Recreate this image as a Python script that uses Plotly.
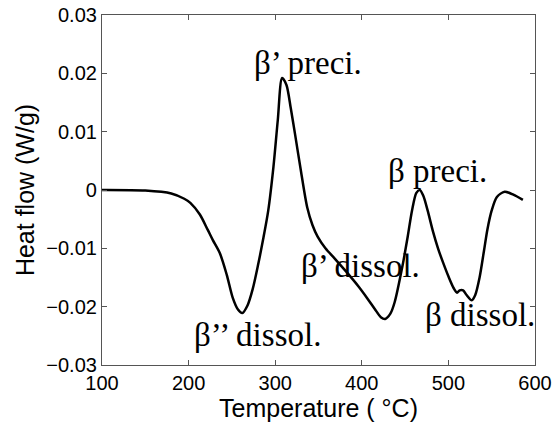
import plotly.graph_objects as go

# DSC trace: temperature (°C) and heat flow (W/g)
temperature = [100, 150, 180, 195, 202, 213, 222, 228, 236, 244, 251, 257, 262, 268, 274,
               280, 286, 292, 298, 303, 308, 313, 318, 323, 330, 337, 343, 349, 358, 369,
               382, 396, 406, 415, 422, 427, 433, 438, 447, 453, 458, 463, 467, 471, 476,
               482, 488, 494, 500, 506, 510, 513, 517, 521, 527, 531, 536, 541, 545, 550,
               556, 565, 575, 586]
heat_flow = [0.0, -0.0001, -0.0006, -0.0015, -0.0022, -0.0042, -0.0068, -0.0086, -0.0108,
             -0.0145, -0.0185, -0.0205, -0.0211, -0.0198, -0.0170, -0.0130, -0.0085, -0.0035,
             0.0040, 0.0120, 0.0192, 0.0180, 0.0140, 0.0095, 0.0030, -0.0030, -0.0060, -0.0080,
             -0.0100, -0.0118, -0.0140, -0.0165, -0.0185, -0.0204, -0.0218, -0.0221, -0.0212,
             -0.0192, -0.0130, -0.0080, -0.0035, -0.0005, 0.0000, -0.0010, -0.0035, -0.0070,
             -0.0100, -0.0125, -0.0148, -0.0168, -0.0176, -0.0172, -0.0172, -0.0180, -0.0189,
             -0.0180, -0.0150, -0.0105, -0.0068, -0.0035, -0.0012, -0.0003, -0.0008, -0.0017]

# Peak labels and their positions (temperature, heat flow)
peak_labels = ["\u03b2\u2019 preci.", "\u03b2 preci.", "\u03b2\u2019 dissol.", "\u03b2 dissol.",
               "\u03b2\u2019\u2019 dissol."]
label_x = [338, 487, 398, 536, 280]
label_y = [0.0218, 0.0033, -0.0130, -0.0214, -0.0249]

x_ticks = [100, 200, 300, 400, 500, 600]
y_ticks = [-0.03, -0.02, -0.01, 0, 0.01, 0.02, 0.03]
y_tick_text = ["\u22120.03", "\u22120.02", "\u22120.01", "0", "0.01", "0.02", "0.03"]

fig = go.Figure()
fig.add_trace(go.Scatter(x=temperature, y=heat_flow, mode="lines",
                         line=dict(color="black", width=2.5, shape="spline", smoothing=0.8),
                         showlegend=False))

for txt, lx, ly in zip(peak_labels, label_x, label_y):
    fig.add_annotation(x=lx, y=ly, text=txt, showarrow=False,
                       font=dict(family="Liberation Serif", size=33, color="black"))

axis_common = dict(showline=True, linecolor="#555555", linewidth=1.2, mirror="ticks",
                   ticks="inside", ticklen=5, tickcolor="#555555", showgrid=False,
                   zeroline=False, automargin=False,
                   tickfont=dict(family="Liberation Sans", size=20, color="black"))

fig.update_xaxes(range=[100, 600], tickvals=x_ticks,
                 title=dict(text="Temperature ( \u00b0C)", font=dict(family="Liberation Sans", size=25, color="black"),
                            standoff=2),
                 **axis_common)
fig.update_yaxes(range=[-0.03, 0.03], tickvals=y_ticks, ticktext=y_tick_text,
                 title=dict(text="Heat flow (W/g)", font=dict(family="Liberation Sans", size=25, color="black"),
                            standoff=4),
                 **axis_common)

fig.update_layout(width=555, height=424, margin=dict(l=102, r=20, t=15, b=59),
                  plot_bgcolor="white", paper_bgcolor="white")

fig.write_html("out.html")
